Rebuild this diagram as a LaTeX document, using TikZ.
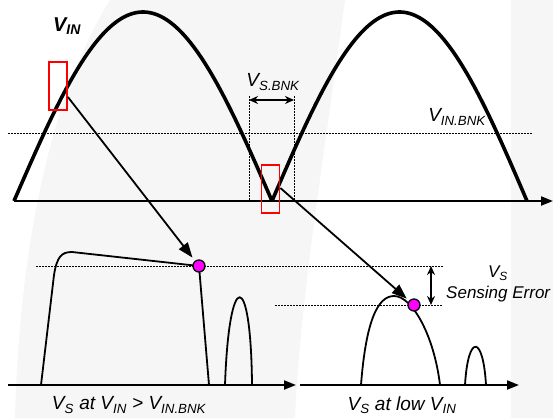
\documentclass[tikz,border=0pt]{standalone}
\usepackage{fontspec}
\setmainfont{Liberation Sans}
\usetikzlibrary{arrows.meta}
\definecolor{bggray}{HTML}{F6F6F6}
\definecolor{dotmag}{HTML}{FF00FF}
\begin{document}
\begin{tikzpicture}[x=1pt,y=-1pt,
  lbl/.style={font=\fontsize{19}{22}\selectfont\itshape, inner sep=0pt},
  axis/.style={line width=2pt, -{Triangle[length=12pt,width=9pt]}},
  wave/.style={line width=3.6pt, line join=round},
  pulse/.style={line width=1.8pt, line join=round},
  dots/.style={line width=1pt, dash pattern=on 1.5pt off 1.5pt},
  zoombox/.style={draw=red, line width=1.8pt, minimum width=18pt, minimum height=48pt, inner sep=0pt},
  mdot/.style={circle, draw=black, fill=dotmag, line width=1.3pt, minimum size=12pt, inner sep=0pt},
  bigarrow/.style={line width=1.8pt, -{Triangle[length=15pt,width=11pt]}},
  dimarrow/.style={line width=1.5pt, {Stealth[length=9pt,width=8pt]}-{Stealth[length=9pt,width=8pt]}}
]
\useasboundingbox (0,0) rectangle (553,418);
% background watermark
\fill[bggray] (15,418) .. controls (20,220) and (60,80) .. (110,0) -- (345,0)
  .. controls (325,150) and (300,300) .. (295,418) -- cycle;
\fill[bggray] (511,0) rectangle (553,418);

% top plot
\coordinate (tax0) at (14,201);
\coordinate (tax1) at (553,201);
\draw[axis] (tax0) -- (tax1);
\draw[dots] (8,133) -- (532,133);
\draw[dots] (249,96) -- (249,201);
\draw[dots] (294,96) -- (294,201);
\draw[wave] plot[domain=0:180, samples=100] ({14+1.43333*\x},{201-189*sin(\x)});
\draw[wave] plot[domain=0:180, samples=100] ({272+1.41667*\x},{201-189*sin(\x)});
\coordinate (bl) at (249,100);
\coordinate (br) at (294,100);
\draw[dimarrow] (bl) -- (br);
\node[lbl] (vsbnk) at (273,82) {V\textsubscript{S.BNK}};
\node[lbl] (vinbnk) at (457,117) {V\textsubscript{IN.BNK}};
\node[lbl, font=\fontsize{20}{22}\selectfont\bfseries\itshape] (vin) at (67,26) {V\textsubscript{IN}};

\node[zoombox] (rect1) at (58,86) {};
\node[zoombox] (rect2) at (270.5,189) {};

% bottom left plot
\coordinate (la0) at (8,385);
\coordinate (la1) at (296,385);
\draw[axis] (la0) -- (la1);
\draw[dots] (36,266) -- (443,266);
\draw[dots] (275,305) -- (443,305);
\draw[pulse] (41,385) -- (54,275) .. controls (57,256) and (62,252) .. (72,252) -- (199,266) -- (209,385);
\draw[pulse] (225,385) .. controls (229,268) and (251,268) .. (252,385);
\node[mdot] (dot1) at (199,266) {};

% bottom right plot
\coordinate (ra0) at (300,385);
\coordinate (ra1) at (519,385);
\draw[axis] (ra0) -- (ra1);
\draw[pulse] (361,385) .. controls (366,320) and (378,296) .. (394,296) .. controls (412,296) and (434,335) .. (440,385);
\draw[pulse] (465,385) .. controls (468,334) and (483,334) .. (486,385);
\node[mdot] (dot2) at (414,305) {};

\coordinate (et) at (431,266);
\coordinate (eb) at (431,305);
\draw[dimarrow] (et) -- (eb);
\node[lbl, font=\fontsize{17}{20}\selectfont\itshape] (err1) at (498,273) {V\textsubscript{S}};
\node[lbl, font=\fontsize{17}{20}\selectfont\itshape, anchor=west] (err2) at (446,294) {Sensing Error};

% connectors
\coordinate (s1) at (rect1.east |- 0,97);
\coordinate (s2) at (rect2.east |- 0,188);
\draw[bigarrow, shorten >=4pt] (s1) -- (dot1);
\draw[bigarrow, shorten >=3pt] (s2) -- (dot2);

\node[lbl] (cap1) at (129,405) {V\textsubscript{S} at V\textsubscript{IN} \textgreater{} V\textsubscript{IN.BNK}};
\node[lbl] (cap2) at (402,405) {V\textsubscript{S} at low V\textsubscript{IN}};
\end{tikzpicture}
\end{document}
